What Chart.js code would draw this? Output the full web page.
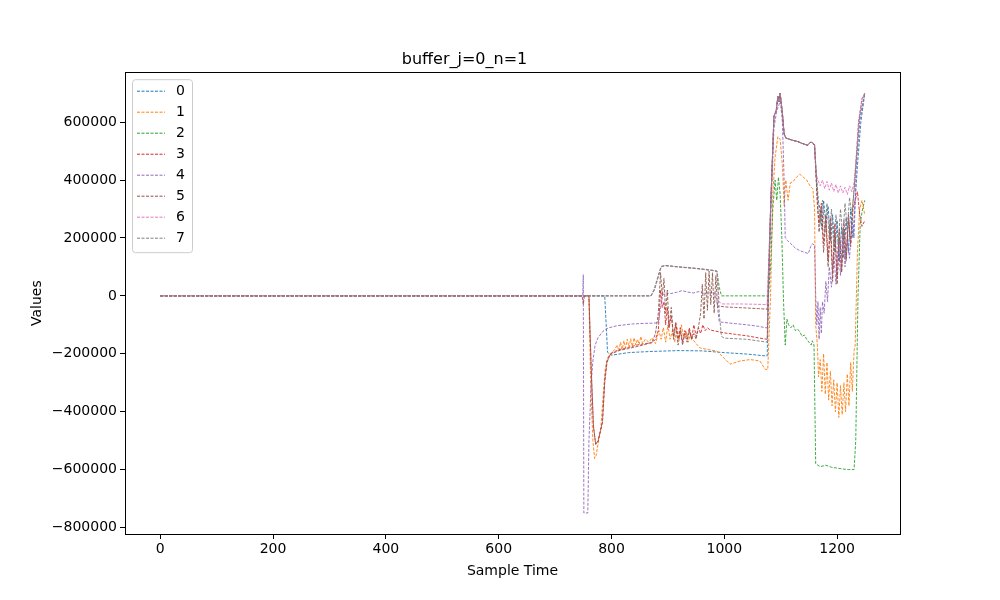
<!DOCTYPE html>
<html>
<head>
<meta charset="utf-8">
<script src="https://cdn.jsdelivr.net/npm/chart.js@4"></script>
<style>
  html, body { margin: 0; padding: 0; background: #fff; }
  #wrap { width: 1000px; height: 600px; }
</style>
</head>
<body>
<div id="wrap"><canvas id="myChart" width="1000" height="600"></canvas></div>
<script>
// series values as [sample, value]
var s0 = [[0,0],[788,0],[793,-195000],[800,-205000],[830,-196000],[870,-192000],[920,-189000],[960,-190000],[1000,-196000],[1040,-201000],[1076,-208000],
  [1082,300000],[1088,620000],[1092,640000],[1095,690000],[1097,670000],[1099,700000],[1103,630000],[1106,560000],[1109,545000],[1120,538000],[1130,533000],[1140,525000],[1148,520000],[1152,530000],[1156,530000],[1160,520000],[1163,420000],
  [1166,330000],[1170,300000],[1173,230000],[1176,330000],[1180,250000],[1184,310000],[1188,190000],[1192,280000],[1196,150000],[1200,260000],[1204,120000],[1208,240000],[1212,130000],[1216,270000],[1220,150000],[1224,300000],[1228,200000],[1232,330000],[1236,450000],[1242,600000],[1249,700000]];

var s1 = [[0,0],[760,0],[763,-300000],[767,-500000],[770,-562000],[773,-550000],[777,-500000],[781,-460000],[785,-350000],[789,-250000],[793,-215000],[797,-200000],[801,-195000],[806,-185000],
  [810,-170000],[813,-190000],[816,-160000],[819,-185000],[822,-155000],[825,-180000],[828,-150000],[831,-178000],[834,-148000],[837,-175000],[840,-145000],[843,-170000],[846,-150000],[849,-168000],[852,-140000],[855,-165000],[860,-150000],[866,-160000],[872,-145000],
  [878,-165000],[884,-120000],[888,-150000],[892,-110000],[896,-160000],[900,-100000],[904,-150000],[908,-120000],[912,-160000],[916,-110000],[920,-150000],[924,-100000],[928,-145000],[932,-120000],[936,-160000],[940,-130000],[944,-150000],[950,-165000],[957,-180000],
  [970,-185000],[987,-191000],[1001,-218000],[1010,-236000],[1028,-225000],[1046,-220000],[1063,-225000],[1072,-253000],[1077,-255000],
  [1082,0],[1086,350000],[1090,480000],[1095,550000],[1099,540000],[1103,450000],[1106,312000],[1109,400000],[1113,330000],[1117,390000],[1122,395000],[1128,410000],[1134,420000],[1140,410000],[1146,400000],[1152,380000],[1157,370000],[1160,300000],
  [1162,-100000],[1165,-170000],[1167,-280000],[1170,-220000],[1173,-330000],[1176,-200000],[1179,-340000],[1182,-230000],[1185,-360000],[1188,-260000],[1191,-380000],[1194,-290000],[1197,-400000],[1200,-300000],[1203,-420000],[1206,-310000],[1209,-410000],[1212,-300000],[1215,-400000],[1218,-270000],[1221,-380000],[1224,-230000],[1227,-330000],[1230,-190000],[1232,-170000],[1236,150000],[1240,300000],[1244,330000],[1249,280000]];

var s2 = [[0,0],[870,0],[876,20000],[882,60000],[888,100000],[895,105000],[920,100000],[950,95000],[980,88000],[987,85000],[991,30000],[995,0],[1078,0],
  [1082,100000],[1086,300000],[1090,400000],[1093,330000],[1096,410000],[1099,350000],[1102,200000],[1105,-20000],[1108,-170000],[1111,-80000],[1114,-100000],[1118,-110000],[1122,-100000],[1126,-120000],[1130,-115000],[1134,-125000],[1138,-140000],[1142,-135000],[1146,-150000],[1150,-160000],[1154,-170000],[1156,-155000],[1159,-170000],
  [1162,-580000],[1170,-590000],[1180,-585000],[1190,-592000],[1200,-595000],[1210,-598000],[1220,-600000],[1230,-600000],[1233,-500000],[1237,0],[1241,250000],[1245,300000],[1249,330000]];

var s3 = [[0,0],[760,0],[764,-250000],[768,-450000],[772,-513000],[776,-505000],[780,-470000],[784,-440000],[788,-300000],[792,-230000],[797,-205000],[802,-195000],[815,-185000],[830,-178000],[845,-170000],[860,-165000],[872,-162000],
  [878,-150000],[883,-120000],[887,20000],[890,-40000],[893,-20000],[896,-100000],[899,-40000],[902,-110000],[906,-70000],[910,-140000],[914,-90000],[918,-150000],[922,-110000],[926,-160000],[930,-120000],[934,-150000],[938,-110000],[942,-150000],[946,-100000],[950,-140000],[954,-110000],[958,-130000],[962,-100000],[966,-120000],[970,-110000],
  [975,-118000],[985,-122000],[1000,-128000],[1020,-133000],[1040,-138000],[1060,-145000],[1076,-150000],
  [1082,300000],[1088,620000],[1092,640000],[1095,690000],[1097,670000],[1099,700000],[1103,630000],[1106,560000],[1109,545000],[1120,538000],[1130,533000],[1140,525000],[1148,520000],[1152,530000],[1156,530000],[1160,520000],[1163,400000],
  [1165,310000],[1168,250000],[1172,320000],[1176,180000],[1180,280000],[1184,120000],[1188,270000],[1192,80000],[1196,250000],[1200,60000],[1204,230000],[1208,90000],[1212,260000],[1216,130000],[1220,280000],[1224,170000],[1228,300000],[1232,330000],[1236,360000],[1240,280000],[1244,240000],[1249,260000]];

var s4 = [[0,0],[749,0],[750,73000],[751,-750000],[758,-750000],[760,-500000],[764,-300000],[767,-225000],[771,-170000],[776,-145000],[785,-122000],[794,-111000],[810,-103000],[837,-97000],[860,-95000],[877,-94000],[883,-92000],
  [887,-40000],[891,5000],[897,10000],[905,8000],[915,12000],[925,18000],[935,13000],[945,10000],[955,15000],[965,8000],[975,12000],[983,10000],[987,-20000],[991,-90000],[1000,-92000],[1020,-96000],[1040,-100000],[1060,-105000],[1076,-111000],
  [1082,250000],[1088,580000],[1093,640000],[1097,660000],[1099,680000],[1103,600000],[1106,400000],[1108,201000],[1112,191000],[1118,180000],[1126,165000],[1134,156000],[1143,150000],[1149,146000],[1153,170000],[1156,180000],[1160,175000],
  [1162,0],[1164,-100000],[1166,-20000],[1168,-150000],[1170,-40000],[1172,-130000],[1174,-20000],[1177,-60000],[1180,50000],[1183,-20000],[1186,100000],[1190,30000],[1194,150000],[1198,40000],[1202,190000],[1206,70000],[1210,230000],[1214,100000],[1218,200000],[1222,130000],[1226,260000],[1230,200000],[1234,450000],[1240,600000],[1249,700000]];

var s5 = [[0,0],[748,0],[750,-30000],[752,0],[760,0],[764,-250000],[768,-450000],[772,-513000],[776,-500000],[780,-470000],[784,-430000],[788,-290000],[792,-225000],[797,-205000],[802,-198000],[815,-188000],[830,-182000],[845,-175000],[860,-168000],[872,-160000],
  [878,-130000],[883,-60000],[887,80000],[890,0],[893,60000],[896,-60000],[899,20000],[902,-110000],[906,-40000],[910,-150000],[914,-100000],[918,-170000],[922,-120000],[926,-170000],[930,-130000],[934,-160000],[938,-120000],[942,-150000],[946,-130000],[950,-150000],[954,-110000],
  [958,-60000],[961,40000],[964,-80000],[967,80000],[970,-50000],[973,85000],[976,-30000],[979,80000],[982,-60000],[985,70000],[988,-40000],[991,-35000],[1000,-38000],[1020,-40000],[1040,-42000],[1060,-44000],[1076,-46000],
  [1082,300000],[1088,620000],[1092,640000],[1095,690000],[1097,670000],[1099,700000],[1103,630000],[1106,560000],[1109,545000],[1120,538000],[1130,533000],[1140,525000],[1148,520000],[1152,530000],[1156,530000],[1160,520000],[1163,400000],
  [1165,330000],[1168,220000],[1172,300000],[1176,150000],[1180,260000],[1184,100000],[1188,240000],[1192,50000],[1196,220000],[1200,40000],[1204,200000],[1208,80000],[1212,230000],[1216,120000],[1220,260000],[1224,180000],[1228,320000],[1232,420000],[1238,600000],[1244,680000],[1249,700000]];

var s6 = [[0,0],[870,0],[876,20000],[882,60000],[888,100000],[895,104000],[920,99000],[950,94000],[980,87000],[987,84000],[991,-20000],[995,-28000],[1030,-28000],[1076,-30000],
  [1082,300000],[1088,620000],[1092,640000],[1095,690000],[1097,670000],[1099,700000],[1103,630000],[1106,560000],[1109,545000],[1120,538000],[1130,533000],[1140,525000],[1148,520000],[1152,530000],[1156,530000],[1160,520000],[1163,420000],
  [1166,400000],[1170,380000],[1174,400000],[1178,370000],[1182,395000],[1186,365000],[1190,390000],[1194,360000],[1198,385000],[1202,355000],[1206,380000],[1210,355000],[1214,375000],[1218,350000],[1222,380000],[1226,360000],[1230,390000],[1234,480000],[1238,600000],[1244,680000],[1249,700000]];

var s7 = [[0,0],[870,0],[876,25000],[882,65000],[888,102000],[895,105000],[920,100000],[950,95000],[980,88000],[987,85000],[991,-60000],[995,-140000],[1000,-146000],[1040,-150000],[1076,-160000],
  [1082,300000],[1088,620000],[1092,640000],[1095,690000],[1097,670000],[1099,700000],[1103,630000],[1106,560000],[1109,545000],[1120,538000],[1130,533000],[1140,525000],[1148,520000],[1152,530000],[1156,530000],[1160,520000],[1163,420000],
  [1166,350000],[1170,250000],[1174,330000],[1178,220000],[1182,320000],[1186,200000],[1190,300000],[1194,170000],[1198,280000],[1202,180000],[1206,300000],[1210,200000],[1214,320000],[1218,230000],[1222,340000],[1226,280000],[1230,360000],[1234,470000],[1240,620000],[1249,700000]];

var labels = ["0", "1", "2", "3", "4", "5", "6", "7"];
var colors = ["#1f77b4", "#ff7f0e", "#2ca02c", "#d62728", "#9467bd", "#8c564b", "#e377c2", "#7f7f7f"];
var xTicks = [0, 200, 400, 600, 800, 1000, 1200];
var yTicks = [-800000, -600000, -400000, -200000, 0, 200000, 400000, 600000];

var series = [s0, s1, s2, s3, s4, s5, s6, s7];
var FONT = "'DejaVu Sans', sans-serif";

function toPts(arr) {
    return arr.map(function (p) { return { x: p[0], y: p[1] }; });
}

function fmt(v) {
    return v < 0 ? "\u2212" + String(-v) : String(v);
}

// matplotlib style frame + legend inside the axes
var framePlugin = {
    id: "frame",
    afterDraw: function (chart) {
        var c = chart.ctx, a = chart.chartArea;
        c.save();
        c.strokeStyle = "#000";
        c.lineWidth = 1;
        c.strokeRect(Math.round(a.left) + 0.5, Math.round(a.top) + 0.5, Math.round(a.right - a.left), Math.round(a.bottom - a.top));

        var bx = a.left + 7, by = a.top + 7, bw = 60, bh = 173;
        c.fillStyle = "rgba(255,255,255,0.8)";
        c.strokeStyle = "#cccccc";
        c.beginPath();
        c.roundRect(bx + 0.5, by + 0.5, bw, bh, 3);
        c.fill();
        c.stroke();
        c.font = "14px " + FONT;
        c.textBaseline = "middle";
        chart.data.datasets.forEach(function (ds, i) {
            var yy = by + 12 + i * 21;
            c.strokeStyle = ds.borderColor;
            c.lineWidth = 1;
            c.setLineDash([3, 1.5]);
            c.beginPath();
            c.moveTo(bx + 5, yy);
            c.lineTo(bx + 33, yy);
            c.stroke();
            c.setLineDash([]);
            c.fillStyle = "#000";
            c.fillText(ds.label, bx + 44, yy);
        });
        c.restore();
    }
};

var ctx = document.getElementById("myChart").getContext("2d");
var mixedChart = new Chart(ctx, {
    type: "line",
    data: {
        datasets: series.map(function (s, i) {
            return {
                label: labels[i],
                data: toPts(s),
                order: series.length - i,   // later series drawn on top, like matplotlib
                borderColor: colors[i],
                backgroundColor: colors[i],
                borderWidth: 0.9,
                borderDash: [3, 1.5],
                pointRadius: 0,
                tension: 0,
                fill: false
            };
        })
    },
    options: {
        responsive: false,
        animation: false,
        events: [],
        layout: { padding: { left: 29, right: 100, top: 0, bottom: 20 } },
        plugins: {
            legend: { display: false },
            tooltip: { enabled: false },
            title: {
                display: true,
                text: "buffer_j=0_n=1",
                color: "#000",
                font: { family: FONT, size: 16, weight: "normal" },
                padding: { top: 50, bottom: 3 }
            }
        },
        scales: {
            x: {
                type: "linear",
                min: -62.45,
                max: 1311.45,
                afterBuildTicks: function (axis) { axis.ticks = xTicks.map(function (v) { return { value: v }; }); },
                afterFit: function (axis) { axis.height = 46; },
                grid: { drawOnChartArea: false, tickLength: 5, tickColor: "#000", drawTicks: true },
                border: { display: false },
                ticks: { color: "#000", font: { family: FONT, size: 14 }, padding: 2, maxRotation: 0,
                    callback: function (v) { return fmt(v); } },
                title: { display: true, text: "Sample Time", color: "#000", font: { family: FONT, size: 14 }, padding: { top: 0, bottom: 0 } }
            },
            y: {
                type: "linear",
                min: -822500,
                max: 772500,
                afterBuildTicks: function (axis) { axis.ticks = yTicks.map(function (v) { return { value: v }; }); },
                afterFit: function (axis) { axis.width = 96; },
                grid: { drawOnChartArea: false, tickLength: 5, tickColor: "#000" },
                border: { display: false },
                ticks: { color: "#000", font: { family: FONT, size: 14 }, padding: 3,
                    callback: function (v) { return fmt(v); } },
                title: { display: true, text: "Values", color: "#000", font: { family: FONT, size: 14 }, padding: { top: 0, bottom: 4 } }
            }
        }
    },
    plugins: [framePlugin]
});
</script>
</body>
</html>
